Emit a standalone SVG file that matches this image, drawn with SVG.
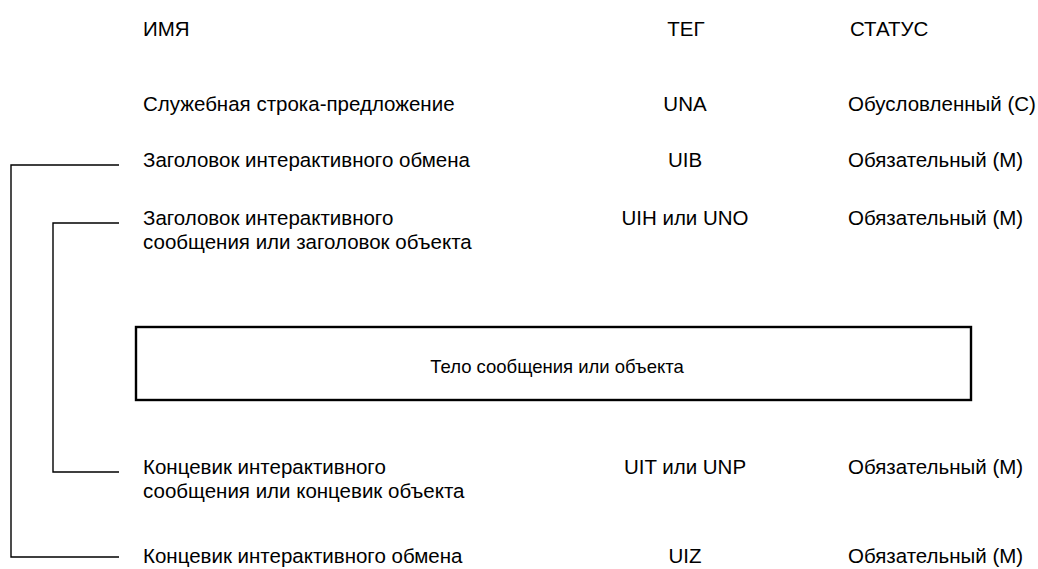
<svg xmlns="http://www.w3.org/2000/svg" width="1038" height="569" viewBox="0 0 1038 569">
<style>
text{font-family:"Liberation Sans",Arial,sans-serif;font-size:20.5px;fill:#000}
.tag{text-anchor:middle}
.body{font-size:18.5px}
.conn{fill:none;stroke:#000;stroke-width:1.4}
.box{fill:#fff;stroke:#000;stroke-width:2.4}
</style>
<rect width="1038" height="569" fill="#fff"/>
<g id="header">
<text x="143" y="36">ИМЯ</text>
<text class="tag" x="686" y="36">ТЕГ</text>
<text x="850" y="36">СТАТУС</text>
</g>
<g id="connectors">
<polyline class="conn" points="119,165 11,165 11,557 119,557"/>
<polyline class="conn" points="119,223 53,223 53,472 119,472"/>
</g>
<g id="una">
<text x="143" y="111">Служебная строка-предложение</text>
<text class="tag" x="685" y="111">UNA</text>
<text x="848" y="111">Обусловленный (С)</text>
</g>
<g id="uib">
<text x="143" y="167">Заголовок интерактивного обмена</text>
<text class="tag" x="685" y="167">UIB</text>
<text x="848" y="167">Обязательный (М)</text>
</g>
<g id="uih">
<text x="143" y="225">Заголовок интерактивного</text>
<text x="143" y="249">сообщения или заголовок объекта</text>
<text class="tag" x="685" y="225">UIH или UNO</text>
<text x="848" y="225">Обязательный (М)</text>
</g>
<g id="body">
<rect class="box" x="136" y="327" width="835" height="73"/>
<text class="tag body" x="557" y="373">Тело сообщения или объекта</text>
</g>
<g id="uit">
<text x="143" y="474">Концевик интерактивного</text>
<text x="143" y="498">сообщения или концевик объекта</text>
<text class="tag" x="685" y="474">UIT или UNP</text>
<text x="848" y="474">Обязательный (М)</text>
</g>
<g id="uiz">
<text x="143" y="563">Концевик интерактивного обмена</text>
<text class="tag" x="685" y="563">UIZ</text>
<text x="848" y="563">Обязательный (М)</text>
</g>
</svg>
